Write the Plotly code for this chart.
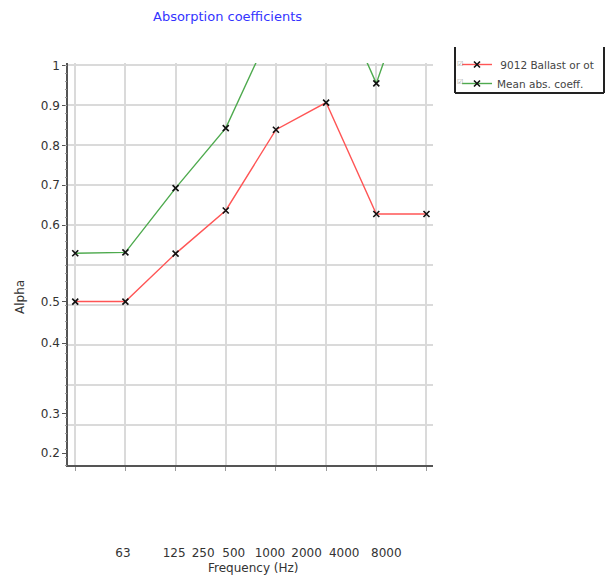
import plotly.graph_objects as go

# ---- data (values in axis units; 8 octave bands drawn at band index 0..7) ----
band_index = [0, 1, 2, 3, 4, 5, 6, 7]
ballast_alpha = [0.409, 0.409, 0.529, 0.637, 0.839, 0.907, 0.628, 0.628]
mean_alpha = [0.530, 0.532, 0.693, 0.843, 1.115, 1.238, 0.955, 1.315]

series_names = ["\u00a09012 Ballast or ot", "Mean abs. coeff."]

# frequency tick labels and where they sit along the band axis
freq_labels = ["63", "125", "250", "500", "1000", "2000", "4000", "8000"]
freq_label_pos = [0.95, 1.97, 2.55, 3.16, 3.88, 4.61, 5.36, 6.20]

# alpha tick labels and where they sit along the value axis
alpha_labels = ["1", "0.9", "0.8", "0.7", "0.6", "0.5", "0.4", "0.3", "0.2"]
alpha_label_pos = [1.0, 0.9, 0.8, 0.7, 0.6, 0.409, 0.305, 0.128, 0.03]
extra_alpha_label = "0.1"
extra_alpha_pos = -0.072

FONT = "DejaVu Sans"
GRID = "#dadada"
AXIS = "#555555"

# plot area (page pixels) used to place decorations outside the axes
PX_L, PX_R, PX_T, PX_B = 68, 433, 63, 465


def px_x(p):
    return (p - PX_L) / (PX_R - PX_L)


def px_y(p):
    return (PX_B - p) / (PX_B - PX_T)


fig = go.Figure()
fig.add_trace(go.Scatter(
    x=band_index, y=ballast_alpha, name=series_names[0], mode="lines+markers",
    line=dict(color="#ff5555", width=1.4),
    marker=dict(symbol="x-thin", size=6, color="#111111",
                line=dict(color="#111111", width=1.6)),
))
fig.add_trace(go.Scatter(
    x=band_index, y=mean_alpha, name=series_names[1], mode="lines+markers",
    line=dict(color="#4eaa4e", width=1.4),
    marker=dict(symbol="x-thin", size=6, color="#111111",
                line=dict(color="#111111", width=1.6)),
))
# carrier for the fine tick axis (not shown)
fig.add_trace(go.Scatter(
    x=band_index, y=ballast_alpha, yaxis="y2", mode="lines",
    line=dict(width=0), opacity=0, showlegend=False, hoverinfo="skip",
))

LB_L, LB_R, LB_T, LB_B = 455, 604, 47, 93
box_line = dict(color="#222222", width=2)
legend_edges = [
    dict(type="line", xref="paper", yref="paper", x0=px_x(LB_L), x1=px_x(LB_L),
         y0=px_y(LB_T), y1=px_y(LB_B), line=box_line, layer="above"),
    dict(type="line", xref="paper", yref="paper", x0=px_x(LB_L), x1=px_x(LB_R),
         y0=px_y(LB_B), y1=px_y(LB_B), line=box_line, layer="above"),
    dict(type="line", xref="paper", yref="paper", x0=px_x(LB_R), x1=px_x(LB_R),
         y0=px_y(LB_T), y1=px_y(LB_B), line=box_line, layer="above"),
]

fig.update_layout(
    width=605, height=567,
    margin=dict(l=60, r=180, t=55, b=110),
    paper_bgcolor="white", plot_bgcolor="white",
    font=dict(family=FONT, size=12, color="#333333"),
    showlegend=True,
    legend=dict(
        x=px_x(457), y=px_y(50), xanchor="left", yanchor="top",
        bgcolor="rgba(0,0,0,0)", borderwidth=0,
        font=dict(family=FONT, size=10.5, color="#444444"),
        itemwidth=30, tracegroupgap=0,
    ),
    xaxis=dict(
        range=[-0.144, 7.13], zeroline=False,
        tickmode="array", tickvals=freq_label_pos, ticktext=freq_labels,
        ticks="", showgrid=False, ticklabelstandoff=76,
        tickfont=dict(family=FONT, size=12, color="#333333"),
        showline=True, linecolor=AXIS, linewidth=1.5,
        minor=dict(tickmode="linear", tick0=0, dtick=1, ticks="outside",
                   ticklen=4, tickcolor="#999999", showgrid=True,
                   gridcolor=GRID, gridwidth=1.5),
    ),
    yaxis=dict(
        range=[0, 1.006], zeroline=False,
        tickmode="array", tickvals=alpha_label_pos, ticktext=alpha_labels,
        ticks="outside", ticklen=4, tickcolor=AXIS, showgrid=False,
        tickfont=dict(family=FONT, size=12, color="#333333"),
        showline=True, linecolor=AXIS, linewidth=1.5,
        minor=dict(tickmode="linear", tick0=0, dtick=0.1, ticks="",
                   showgrid=True, gridcolor=GRID, gridwidth=1.5),
    ),
    yaxis2=dict(
        overlaying="y", anchor="x", side="left", range=[0, 1.006],
        tickmode="linear", tick0=0, dtick=0.02, ticks="outside", ticklen=2,
        tickcolor="#999999", showticklabels=False, showgrid=False,
        showline=False, zeroline=False,
    ),
    shapes=legend_edges,
    annotations=[
        dict(text="Absorption coefficients", xref="paper", yref="paper",
             x=px_x(227), y=px_y(17), xanchor="center", yanchor="middle",
             showarrow=False, font=dict(family=FONT, size=13, color="#3434ff")),
        dict(text="Alpha", xref="paper", yref="paper",
             x=px_x(20), y=px_y(297), textangle=-90,
             xanchor="center", yanchor="middle", showarrow=False,
             font=dict(family=FONT, size=12, color="#333333")),
        dict(text="Frequency (Hz)", xref="paper", yref="paper",
             x=px_x(253), y=px_y(568),
             xanchor="center", yanchor="middle", showarrow=False,
             font=dict(family=FONT, size=12, color="#333333")),
        dict(text=extra_alpha_label, xref="paper", yref="y",
             x=0, y=extra_alpha_pos, xanchor="right", yanchor="middle",
             xshift=-5, showarrow=False,
             font=dict(family=FONT, size=12, color="#333333")),
        dict(text="\u2611", xref="paper", yref="paper", x=px_x(460), y=px_y(64),
             xanchor="center", yanchor="middle", showarrow=False,
             font=dict(family=FONT, size=7, color="#999999")),
        dict(text="\u2611", xref="paper", yref="paper", x=px_x(460), y=px_y(82),
             xanchor="center", yanchor="middle", showarrow=False,
             font=dict(family=FONT, size=7, color="#999999")),
    ],
)

fig.write_html("out.html")
